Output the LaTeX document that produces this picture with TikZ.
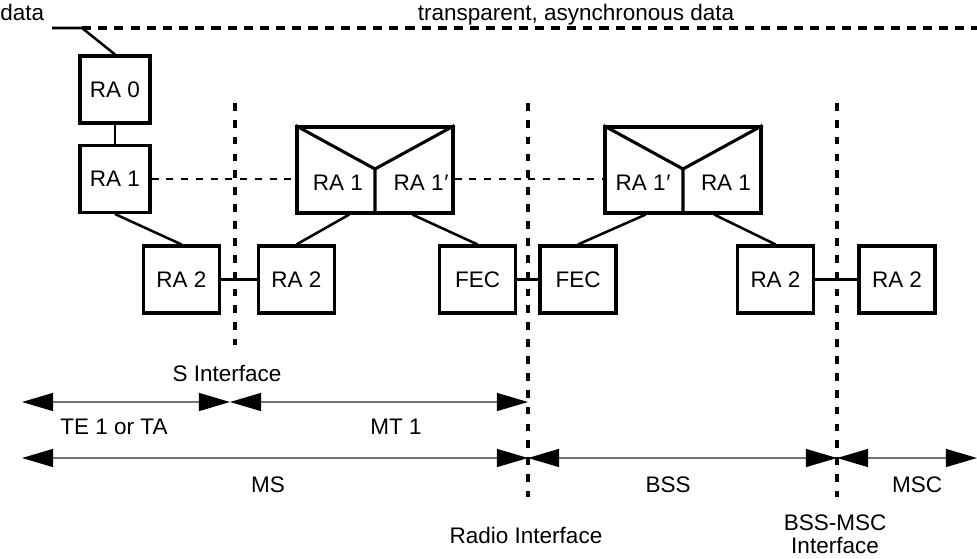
\documentclass[tikz,border=0pt]{standalone}
\usepackage{fontspec}
\setmainfont{Liberation Sans}
\usetikzlibrary{arrows.meta}
\begin{document}
\begin{tikzpicture}[x=0.025cm, y=-0.025cm, font=\fontsize{16}{19}\selectfont,
  blk/.style={draw, line width=2.2pt, minimum width=1.9cm, minimum height=1.675cm, inner sep=0pt},
  big/.style={draw, line width=2.2pt, minimum width=3.9cm, minimum height=2.15cm, inner sep=0pt},
  link/.style={line width=1.8pt},
  dlink/.style={line width=2pt, dash pattern=on 5pt off 5.5pt},
  ifline/.style={line width=2.4pt, dash pattern=on 5.5pt off 6.5pt},
  span/.style={line width=1.1pt, black!55, arrows={Triangle[length=0.78cm, width=0.45cm, black]-Triangle[length=0.78cm, width=0.45cm, black]}}]
\useasboundingbox (0,0) rectangle (977,558);
% data input and transparent path
\node[anchor=base west, inner sep=0pt] (data) at (0,21) {data};
\node[anchor=base] (transp) at (576,21) {transparent, asynchronous data};
\coordinate (din) at (52,28);
\coordinate (dsplit) at (82,28);
\coordinate (dend) at (977,28);
% terminal side
\node[blk, minimum width=1.75cm] (ra0) at (115,89.5) {RA 0};
\node[blk, minimum width=1.75cm] (ra1) at (115,179) {RA 1};
\node[blk] (ra2a) at (181.5,279.5) {RA 2};
\node[blk] (ra2b) at (296.5,279.5) {RA 2};
\node[blk] (feca) at (477.5,279.5) {FEC};
\node[blk] (fecb) at (578,279.5) {FEC};
\node[blk] (ra2c) at (775.5,279.5) {RA 2};
\node[blk] (ra2d) at (897,279.5) {RA 2};
% split boxes
\node[big] (mt) at (375,170) {};
\coordinate (mtv) at (375,169);
\draw[line width=2.2pt] (mt.north west) -- (mtv) -- (mt.north east) (mtv) -- (mt.south);
\node (mtl) at (338,183) {RA 1};
\node (mtr) at (421,183) {RA 1\kern0.5pt′};
\node[big] (bss) at (683,170) {};
\coordinate (bssv) at (683,169);
\draw[line width=2.2pt] (bss.north west) -- (bssv) -- (bss.north east) (bssv) -- (bss.south);
\node (bssl) at (643,183) {RA 1\kern0.5pt′};
\node (bssr) at (726,183) {RA 1};
% connections
\draw[link] (din) -- (dsplit) -- (ra0.north);
\draw[line width=2.4pt, dash pattern=on 6.5pt off 5pt] (dsplit) -- (dend);
\draw[link] (ra0) -- (ra1);
\draw[link] (ra1.south) -- (ra2a.north);
\draw[link] (ra2a) -- (ra2b);
\draw[link] (mt.-120) -- (ra2b.north);
\draw[link] (mt.-50) -- (feca.north);
\draw[link] (feca) -- (fecb);
\draw[link] (bss.-130) -- (fecb.north);
\draw[link] (bss.-55) -- (ra2c.north);
\draw[link] (ra2c) -- (ra2d);
\draw[dlink] (ra1.east) -- (mt.west |- ra1.east);
\draw[dlink] (mt.east |- ra1.east) -- (bss.west |- ra1.east);
% interfaces
\coordinate (sTop) at (235,103);
\coordinate (sBot) at (235,345);
\coordinate (rTop) at (528,103);
\coordinate (rBot) at (528,497);
\coordinate (bmTop) at (837,103);
\coordinate (bmBot) at (837,497);
\draw[ifline] (sTop) -- (sBot);
\draw[ifline] (rTop) -- (rBot);
\draw[ifline] (bmTop) -- (bmBot);
\node (sLbl) at (227,373) {S Interface};
\node (rLbl) at (526,535) {Radio Interface};
\node[align=center, font=\fontsize{16}{16.5}\selectfont] (bmLbl) at (835,534) {BSS-MSC\\Interface};
% spans
\coordinate (a1) at (22,402);
\coordinate (s1) at (230,402);
\coordinate (r1) at (528,402);
\coordinate (a2) at (22,458);
\coordinate (r2) at (528,458);
\coordinate (b2) at (837,458);
\coordinate (e2) at (977,458);
\draw[span] (a1) -- (s1);
\draw[span] (s1) -- (r1);
\draw[span] (a2) -- (r2);
\draw[span] (r2) -- (b2);
\draw[span] (b2) -- (e2);
\node (teLbl) at (114,427) {TE 1 or TA};
\node (mt1Lbl) at (396,427) {MT 1};
\node (msLbl) at (268,485) {MS};
\node (bssLbl) at (668,485) {BSS};
\node (mscLbl) at (917,485) {MSC};
\end{tikzpicture}
\end{document}
